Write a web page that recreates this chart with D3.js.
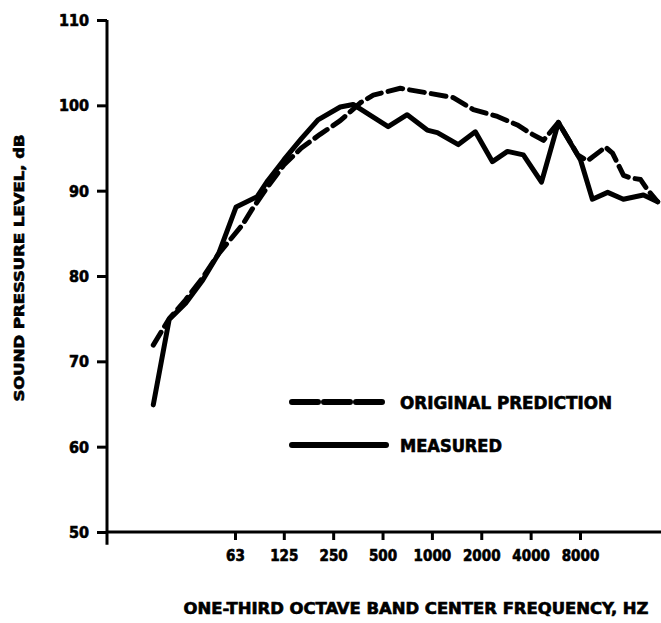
<!DOCTYPE html>
<html>
<head>
<meta charset="utf-8">
<script src="https://cdn.jsdelivr.net/npm/d3@7"></script>
<style>
  body { margin: 0; background: #fff; }
  text { font-family: "DejaVu Sans Condensed", "Liberation Sans Narrow", "DejaVu Sans", sans-serif; font-weight: bold; fill: #000; stroke: #000; stroke-width: 0.6; }
</style>
</head>
<body>
<div id="graph"></div>
<script>
// values
var yTicks = [50, 60, 70, 80, 90, 100, 110];
var xTicks = [63, 125, 250, 500, 1000, 2000, 4000, 8000];
var xTickLabels = ["63", "125", "250", "500", "1000", "2000", "4000", "8000"];

var measFreq = [20, 25, 31.5, 40, 50, 64, 86, 100, 125, 160, 202, 276, 331, 541, 707, 936, 1080, 1450, 1840, 2340, 2890, 3610, 4660, 5910, 8060, 9520, 11800, 14700, 19500, 23800];
var measDb   = [64.9, 74.9, 76.8, 79.5, 82.6, 88.1, 89.3, 91.2, 93.6, 96.1, 98.3, 99.8, 100.1, 97.5, 98.9, 97.1, 96.8, 95.4, 96.9, 93.4, 94.6, 94.2, 91.0, 98.0, 93.6, 89.0, 89.8, 89.0, 89.5, 88.7];

var predFreq = [20, 25, 31.5, 40, 50, 70, 80, 100, 125, 160, 208, 276, 366, 439, 642, 910, 1350, 1790, 2510, 3320, 4100, 4790, 5910, 7740, 8880, 11440, 12630, 14740, 16260, 18730, 20660, 23800];
var predDb   = [71.9, 75.0, 77.2, 79.8, 82.6, 86.0, 87.8, 90.5, 93.0, 95.0, 96.6, 98.2, 100.3, 101.2, 102.0, 101.5, 100.9, 99.5, 98.7, 97.7, 96.6, 95.9, 98.0, 94.2, 93.5, 95.1, 94.4, 91.8, 91.5, 91.3, 90.1, 88.7];

var width = 661, height = 623;

var svg = d3.select("#graph")
    .append("svg")
    .attr("width", width)
    .attr("height", height);

var x = d3.scaleLog().domain([63, 8000]).range([235, 580]);
var y = d3.scaleLinear().domain([50, 110]).range([532, 20]);

// y axis
var yAxis = d3.axisLeft(y).tickValues(yTicks).tickSize(10).tickPadding(8).tickFormat(d3.format("d"));
var gy = svg.append("g").attr("transform", "translate(107,0)").call(yAxis);
gy.select(".domain").remove();
gy.append("line").attr("x1", 0).attr("x2", 0).attr("y1", y(110)).attr("y2", y(48.5))
    .attr("stroke", "#000").attr("stroke-width", 3);
gy.selectAll(".tick line").attr("stroke-width", 3);
gy.selectAll(".tick text").attr("font-size", 16).attr("dy", "0.35em");

// x axis
var xAxis = d3.axisBottom(x).tickValues(xTicks).tickSize(8).tickPadding(10)
    .tickFormat(function(d, i) { return xTickLabels[i]; });
var gx = svg.append("g").attr("transform", "translate(0,532)").call(xAxis);
gx.select(".domain").remove();
gx.append("line").attr("x1", 107).attr("x2", 661).attr("y1", 0).attr("y2", 0)
    .attr("stroke", "#000").attr("stroke-width", 3);
gx.selectAll(".tick line").attr("stroke-width", 3);
gx.selectAll(".tick text").attr("font-size", 15);

// curves
var line = d3.line()
    .x(function(d) { return x(d[0]); })
    .y(function(d) { return y(d[1]); });

var pred = d3.zip(predFreq, predDb);
var meas = d3.zip(measFreq, measDb);

svg.append("path")
    .datum(pred)
    .attr("d", line)
    .attr("fill", "none")
    .attr("stroke", "#000")
    .attr("stroke-width", 5)
    .attr("stroke-linecap", "round")
    .attr("stroke-linejoin", "round")
    .attr("stroke-dasharray", "15,7");

svg.append("path")
    .datum(meas)
    .attr("d", line)
    .attr("fill", "none")
    .attr("stroke", "#000")
    .attr("stroke-width", 5)
    .attr("stroke-linecap", "round")
    .attr("stroke-linejoin", "round");

// legend
var legend = svg.append("g");
legend.append("line").attr("x1", 292).attr("x2", 386).attr("y1", 402).attr("y2", 402)
    .attr("stroke", "#000").attr("stroke-width", 6).attr("stroke-linecap", "round")
    .attr("stroke-dasharray", "26,6");
legend.append("text").attr("x", 400).attr("y", 409).attr("font-size", 17)
    .attr("textLength", 212).attr("lengthAdjust", "spacingAndGlyphs")
    .text("ORIGINAL PREDICTION");
legend.append("line").attr("x1", 292).attr("x2", 386).attr("y1", 445).attr("y2", 445)
    .attr("stroke", "#000").attr("stroke-width", 6).attr("stroke-linecap", "round");
legend.append("text").attr("x", 400).attr("y", 452).attr("font-size", 17)
    .attr("textLength", 102).attr("lengthAdjust", "spacingAndGlyphs")
    .text("MEASURED");

// axis titles
svg.append("text")
    .attr("x", 416).attr("y", 614)
    .attr("text-anchor", "middle")
    .attr("font-size", 16)
    .attr("textLength", 465).attr("lengthAdjust", "spacingAndGlyphs")
    .text("ONE-THIRD OCTAVE BAND CENTER FREQUENCY, HZ");

svg.append("text")
    .attr("transform", "translate(24,268) rotate(-90)")
    .attr("text-anchor", "middle")
    .attr("font-size", 14)
    .attr("textLength", 267).attr("lengthAdjust", "spacingAndGlyphs")
    .text("SOUND PRESSURE LEVEL, dB");
</script>
</body>
</html>
